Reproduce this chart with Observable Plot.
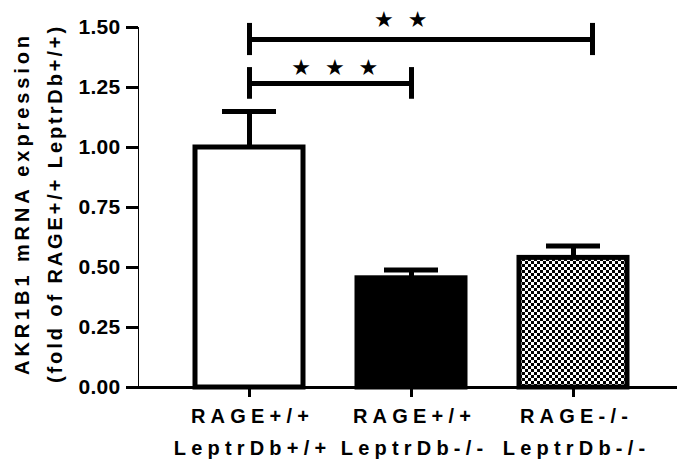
<!DOCTYPE html>
<html><head><meta charset="utf-8">
<script src="https://cdn.jsdelivr.net/npm/d3@7"></script>
<script src="https://cdn.jsdelivr.net/npm/@observablehq/plot@0.6"></script>
<style>
body{margin:0;background:#fff;}
#chart svg{font-family:"Liberation Sans",Arial,sans-serif;font-weight:bold;}
#chart [aria-label^="y-axis"] line, #chart [aria-label^="y-axis"] path,
#chart [aria-label^="x-axis"] line, #chart [aria-label^="x-axis"] path {stroke-width:3px;stroke:#000;}
#chart [aria-label^="y-axis"] text {font-size:21px;letter-spacing:0.3px;fill:#000;}
#chart text[aria-label="xlabel"] {letter-spacing:5.2px;}
#chart text[aria-label="ytitle1"] {letter-spacing:3.9px;}
#chart text[aria-label="ytitle2"] {letter-spacing:2.9px;}
#chart text[aria-label="stars"] {letter-spacing:3.5px;}
</style>
</head><body><div id="chart"></div>
<script>
const groups = ["RAGE+/+ LeptrDb+/+", "RAGE+/+ LeptrDb-/-", "RAGE-/- LeptrDb-/-"];
const labelLine1 = ["RAGE+/+", "RAGE+/+", "RAGE-/-"];
const labelLine2 = ["LeptrDb+/+", "LeptrDb-/-", "LeptrDb-/-"];
const means = [1.00, 0.455, 0.54];
const sems = [0.15, 0.035, 0.05];
const yTicks = [0, 0.25, 0.5, 0.75, 1.0, 1.25, 1.5];
const yTitle = ["AKR1B1 mRNA expression", "(fold of RAGE+/+ LeptrDb+/+)"];
const bracketFrom = [groups[0], groups[0]];
const bracketTo = [groups[1], groups[2]];
const bracketY = [1.267, 1.45];
const bracketHalf = [0.066, 0.067];
const bracketStars = ["★ ★ ★", "★ ★"];
const starY = [1.331, 1.531];

const checkerDefs = () => {
  const defs = d3.create("svg:defs");
  const p = defs.append("pattern").attr("id", "checker").attr("width", 6).attr("height", 6)
    .attr("patternUnits", "userSpaceOnUse");
  p.append("rect").attr("width", 6).attr("height", 6).attr("fill", "white");
  p.append("rect").attr("width", 3).attr("height", 3).attr("fill", "black");
  p.append("rect").attr("x", 3).attr("y", 3).attr("width", 3).attr("height", 3).attr("fill", "black");
  return defs.node();
};

const chart = Plot.plot({
  width: 677,
  height: 471,
  marginTop: 27,
  marginBottom: 84,
  marginLeft: 138,
  marginRight: 0,
  style: {fontFamily: "Liberation Sans, Arial, sans-serif", fontSize: "21px", fontWeight: "bold", background: "white", overflow: "visible"},
  x: {domain: groups, range: [138, 684.5], paddingInner: 0.336, paddingOuter: 0.347, tickSize: 10, tickFormat: () => "", label: null},
  y: {domain: [0, 1.5], ticks: yTicks, tickFormat: d3.format(".2f"), tickSize: 12, tickPadding: 6, label: null, line: true},
  color: {domain: groups, range: ["white", "black", "url(#checker)"]},
  marks: [
    checkerDefs,
    Plot.barY(groups, {x: d => d, y: (d, i) => means[i], fill: d => d, stroke: "black", strokeWidth: 5}),
    Plot.ruleX(groups, {x: d => d, y1: (d, i) => means[i], y2: (d, i) => means[i] + sems[i], stroke: "black", strokeWidth: 5}),
    Plot.tickY(groups, {x: d => d, y: (d, i) => means[i] + sems[i], stroke: "black", strokeWidth: 5, insetLeft: 27, insetRight: 27}),
    Plot.ruleY([0], {stroke: "black", strokeWidth: 3}),
    // brackets
    Plot.ruleY([0], {x1: i => bracketFrom[i], x2: i => bracketTo[i], y: i => bracketY[i], stroke: "black", strokeWidth: 5, insetLeft: 54, insetRight: 54}),
    Plot.ruleY([1], {x1: i => bracketFrom[i], x2: i => bracketTo[i], y: i => bracketY[i], stroke: "black", strokeWidth: 5, insetLeft: 54, insetRight: 35}),
    Plot.ruleX([0, 1], {x: i => bracketFrom[i], y1: i => bracketY[i] - bracketHalf[i], y2: i => bracketY[i] + bracketHalf[i], stroke: "black", strokeWidth: 5}),
    Plot.ruleX([0], {x: i => bracketTo[i], y1: i => bracketY[i] - bracketHalf[i], y2: i => bracketY[i] + bracketHalf[i], stroke: "black", strokeWidth: 5}),
    Plot.ruleX([1], {x: i => bracketTo[i], y1: i => bracketY[i] - bracketHalf[i], y2: i => bracketY[i] + bracketHalf[i], stroke: "black", strokeWidth: 5, dx: 19}),
    Plot.text([0], {x: i => bracketFrom[i], y: i => starY[i], text: i => bracketStars[i], textAnchor: "middle", lineAnchor: "middle", dx: 87, fontFamily: "DejaVu Sans", fontSize: 22, fontWeight: "normal", fill: "black", ariaLabel: () => "stars"}),
    Plot.text([1], {x: i => bracketFrom[i], y: i => starY[i], text: i => bracketStars[i], textAnchor: "middle", lineAnchor: "middle", dx: 153, fontFamily: "DejaVu Sans", fontSize: 22, fontWeight: "normal", fill: "black", ariaLabel: () => "stars"}),
    // x tick labels
    Plot.text(groups, {x: d => d, frameAnchor: "bottom", textAnchor: "middle", lineAnchor: "middle", text: (d, i) => labelLine1[i], dy: 29, dx: 3, fontSize: 20, fill: "black", ariaLabel: () => "xlabel"}),
    Plot.text(groups, {x: d => d, frameAnchor: "bottom", textAnchor: "middle", lineAnchor: "middle", text: (d, i) => labelLine2[i], dy: 61, dx: 3, fontSize: 20, fill: "black", ariaLabel: () => "xlabel"}),
    // y title
    Plot.text([yTitle[0]], {frameAnchor: "left", textAnchor: "middle", lineAnchor: "middle", text: d => d, rotate: -90, dx: -116, dy: -4, fontSize: 20, fill: "black", ariaLabel: () => "ytitle1"}),
    Plot.text([yTitle[1]], {frameAnchor: "left", textAnchor: "middle", lineAnchor: "middle", text: d => d, rotate: -90, dx: -83, dy: -4, fontSize: 20, fill: "black", ariaLabel: () => "ytitle2"})
  ]
});
document.getElementById("chart").append(chart);
</script>
</body></html>
